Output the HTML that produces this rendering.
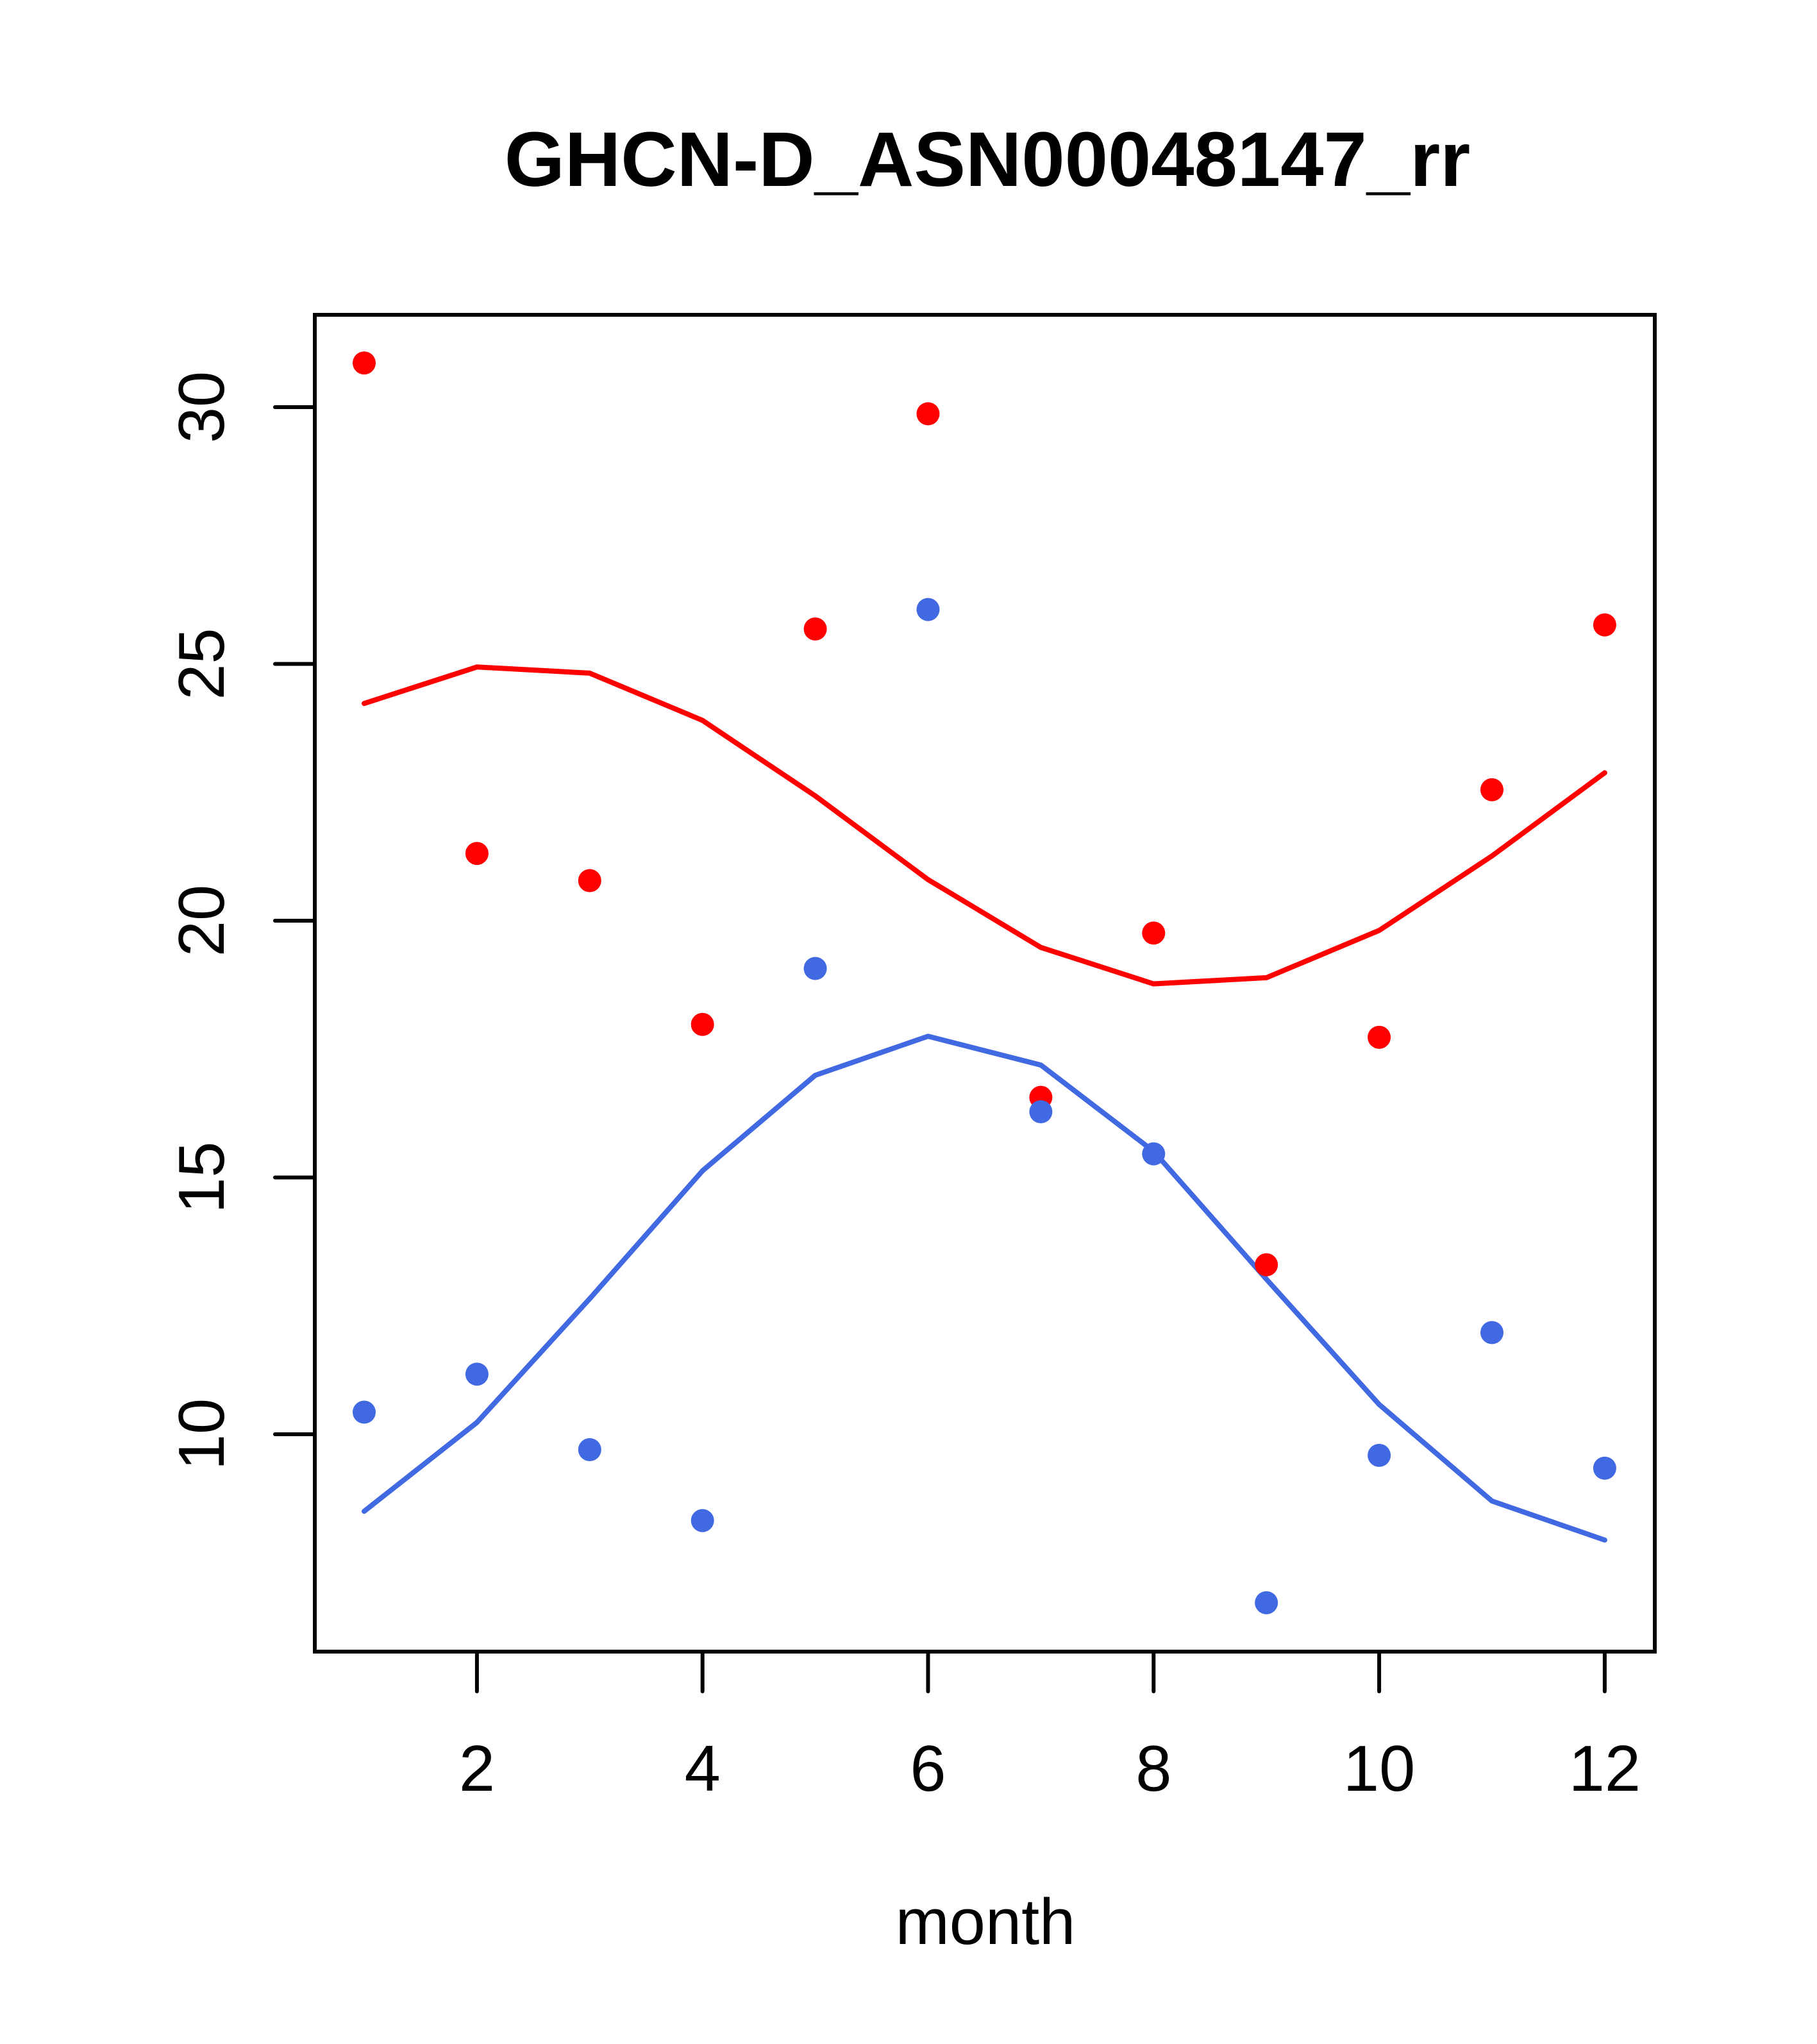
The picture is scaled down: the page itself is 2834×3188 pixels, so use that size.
<!DOCTYPE html>
<html><head><meta charset="utf-8"><style>html,body{margin:0;padding:0;background:#fff}svg{display:block}</style></head>
<body>
<svg id="chart" width="2834" height="3188" viewBox="0 0 2834 3188" xmlns="http://www.w3.org/2000/svg" font-family="Liberation Sans, Arial, sans-serif">
<rect x="0" y="0" width="2834" height="3188" fill="#fff"/>
<text x="1540" y="290" font-size="121" font-weight="bold" text-anchor="middle">GHCN-D_ASN00048147_rr</text>
<text x="1537" y="3032" font-size="101" text-anchor="middle">month</text>
<rect x="491" y="491" width="2090" height="2085" fill="none" stroke="#000" stroke-width="6"/>
<g id="axes"></g>
<g id="marks"></g>
</svg>
<script>
const months = [1,2,3,4,5,6,7,8,9,10,11,12];
const redPoints = [30.86,21.31,20.78,17.98,25.68,29.87,16.56,19.76,13.30,17.73,22.55,25.76];
const bluePoints = [10.43,11.17,9.70,8.32,19.07,26.06,16.28,15.46,6.72,9.59,11.98,9.34];
const redLine = [24.23,24.94,24.82,23.90,22.43,20.80,19.48,18.77,18.89,19.81,21.26,22.88];
const blueLine = [8.50,10.23,12.64,15.13,16.99,17.75,17.19,15.51,13.02,10.58,8.70,7.94];
const xTicks = [2,4,6,8,10,12];
const yTicks = [10,15,20,25,30];

const NS = 'http://www.w3.org/2000/svg';
function xs(m){ return 568 + (m - 1) * 175.9; }
function ys(v){ return 635 + (30 - v) * 80.1; }
const axes = document.getElementById('axes');
const marks = document.getElementById('marks');
function mk(tag, attrs, parent){ const e=document.createElementNS(NS,tag); for(const k in attrs) e.setAttribute(k,attrs[k]); parent.appendChild(e); return e; }

xTicks.forEach(t=>{
  const l = mk('line',{x1:xs(t),x2:xs(t),y1:2576,y2:2638,stroke:'#000','stroke-width':6,'stroke-linecap':'round'},axes);
  
  
  const tx = mk('text',{x:xs(t),y:2793,'font-size':101,'text-anchor':'middle'},axes);
  tx.textContent = t;
  
  
});
yTicks.forEach(t=>{
  const l = mk('line',{x1:429,x2:491,y1:ys(t),y2:ys(t),stroke:'#000','stroke-width':6,'stroke-linecap':'round'},axes);
  
  
  const tx = mk('text',{x:349,y:ys(t),'font-size':101,'text-anchor':'middle',transform:'rotate(-90 349 '+ys(t)+')'},axes);
  tx.textContent = t;
  
  
});

function drawLine(vals, color, name){
  const p = mk('polyline',{points:months.map((m,i)=>xs(m)+','+ys(vals[i])).join(' '),fill:'none',stroke:color,'stroke-width':8,'stroke-linejoin':'round','stroke-linecap':'round'},marks);
  
  
}
function drawPoints(vals, color, name){
  months.forEach((m,i)=>{
    const c = mk('circle',{cx:xs(m),cy:ys(vals[i]),r:18,fill:color},marks);
    
    
  });
}
drawLine(redLine,'#ff0000','red-smooth-line');
drawLine(blueLine,'#4169e1','blue-smooth-line');
drawPoints(redPoints,'#ff0000','red-point');
drawPoints(bluePoints,'#4169e1','blue-point');
</script>
</body></html>
